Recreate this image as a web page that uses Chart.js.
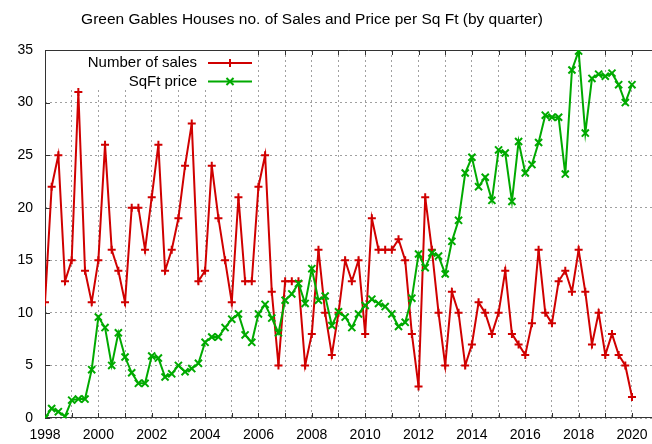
<!DOCTYPE html>
<html>
<head>
<meta charset="utf-8">
<title>Green Gables Houses</title>
<script src="https://cdn.jsdelivr.net/npm/chart.js@4.4.1/dist/chart.umd.min.js"></script>
<style>
  body { margin: 0; background: #fff; }
</style>
</head>
<body>
<canvas id="chart" width="652" height="444"></canvas>
<script>
// quarterly data, first point is Q1 1998
var startYear = 1998;

var sales = [
  11, 22, 25, 13,   15, 31, 14, 11,   15, 26, 16, 14,   11, 20, 20, 16,
  21, 26, 14, 16,   19, 24, 28, 13,   14, 24, 19, 15,   11, 21, 13, 13,
  22, 25, 12, 5,    13, 13, 13, 5,    8, 16, 10, 6,     10, 15, 13, 15,
  8, 19, 16, 16,    16, 17, 15, 8,    3, 21, 16, 10,    5, 12, 10, 5,
  7, 11, 10, 8,     10, 14, 8, 7,     6, 9, 16, 10,     9, 13, 14, 12,
  16, 12, 7, 10,    6, 8, 6, 5,       2
];

var sqftPrice = [
  0, 0.9, 0.6, 0.15,      1.7, 1.8, 1.8, 4.6,     9.6, 8.6, 5.0, 8.1,
  5.8, 4.3, 3.3, 3.3,     5.9, 5.7, 3.9, 4.2,     5.0, 4.4, 4.7, 5.2,
  7.2, 7.7, 7.7, 8.6,     9.4, 9.9, 7.9, 7.2,     9.9, 10.8, 9.5, 8.1,
  11.2, 11.8, 12.8, 10.9, 14.2, 11.2, 11.6, 8.8,  10.1, 9.6, 8.6, 9.9,
  10.7, 11.3, 10.9, 10.6, 9.9, 8.7, 9.1, 11.4,    15.6, 14.3, 15.7, 15.4,
  13.7, 16.8, 18.8, 23.3, 24.8, 22.0, 22.9, 20.7, 25.5, 25.2, 20.6, 26.3,
  23.3, 24.1, 26.2, 28.8, 28.6, 28.6, 23.2, 33.1, 34.9, 27.1, 32.3, 32.7,
  32.5, 32.8, 31.7, 30.0, 31.7
];

var titleText = 'Green Gables Houses no. of Sales and Price per Sq Ft (by quarter)';
var xMin = 1998, xMax = 2020.75;
// one grid line a year, labels on the even years
var xTicks = [1998, 1999, 2000, 2001, 2002, 2003, 2004, 2005, 2006, 2007, 2008, 2009,
  2010, 2011, 2012, 2013, 2014, 2015, 2016, 2017, 2018, 2019, 2020];
var yTicks = [0, 5, 10, 15, 20, 25, 30, 35];

function toPoints(values) {
  return values.map(function (v, i) {
    return { x: startYear + i / 4, y: v };
  });
}

var font = '"Liberation Sans", Arial, sans-serif';

// title sits a bit left of centre, like the gnuplot original
var titlePlugin = {
  id: 'plotTitle',
  afterDraw: function (chart) {
    var ctx = chart.ctx;
    ctx.save();
    ctx.fillStyle = '#000';
    ctx.font = '15.5px ' + font;
    ctx.textAlign = 'center';
    ctx.textBaseline = 'middle';
    ctx.fillText(titleText, 312, 20);
    ctx.restore();
  }
};

// gnuplot style border (left, top, bottom) with inward ticks
var framePlugin = {
  id: 'frame',
  beforeDatasetsDraw: function (chart) {
    var a = chart.chartArea, ctx = chart.ctx;
    var sx = chart.scales.x, sy = chart.scales.y;
    ctx.save();
    ctx.strokeStyle = '#333';
    ctx.lineWidth = 1;
    ctx.beginPath();
    ctx.moveTo(a.right, a.top + 0.5);
    ctx.lineTo(a.left + 0.5, a.top + 0.5);
    ctx.lineTo(a.left + 0.5, a.bottom - 0.5);
    ctx.lineTo(a.right, a.bottom - 0.5);
    sx.ticks.forEach(function (t) {
      var px = Math.round(sx.getPixelForValue(t.value)) + 0.5;
      ctx.moveTo(px, a.bottom); ctx.lineTo(px, a.bottom - 5);
      ctx.moveTo(px, a.top); ctx.lineTo(px, a.top + 5);
    });
    sy.ticks.forEach(function (t) {
      var py = Math.round(sy.getPixelForValue(t.value)) + 0.5;
      ctx.moveTo(a.left, py); ctx.lineTo(a.left + 5, py);
    });
    ctx.stroke();
    ctx.restore();
  }
};

// opaque key, text on the left of the sample
var keyPlugin = {
  id: 'key',
  afterDraw: function (chart) {
    var ctx = chart.ctx;
    ctx.save();
    ctx.fillStyle = '#fff';
    ctx.fillRect(47, 51, 210, 37);
    ctx.font = '15px ' + font;
    ctx.textAlign = 'right';
    ctx.textBaseline = 'middle';
    chart.data.datasets.forEach(function (ds, i) {
      var y = 63 + i * 18.5;
      ctx.fillStyle = '#000';
      ctx.fillText(ds.label, 197, y);
      ctx.strokeStyle = ds.borderColor;
      ctx.lineWidth = 2;
      ctx.beginPath();
      ctx.moveTo(208, y);
      ctx.lineTo(252, y);
      ctx.stroke();
      Chart.helpers.drawPoint(ctx, {
        pointStyle: ds.pointStyle, radius: ds.pointRadius, borderWidth: ds.pointBorderWidth
      }, 230, y);
    });
    ctx.restore();
  }
};

var ctx = document.getElementById('chart').getContext('2d');

var chart = new Chart(ctx, {
  type: 'line',
  data: {
    datasets: [{
      label: 'Number of sales',
      data: toPoints(sales),
      borderColor: '#d00000',
      backgroundColor: '#d00000',
      borderWidth: 2,
      pointStyle: 'cross',
      pointRadius: 4,
      pointBorderWidth: 2,
      fill: false,
      order: 1
    }, {
      label: 'SqFt price',
      data: toPoints(sqftPrice),
      borderColor: '#00aa00',
      backgroundColor: '#00aa00',
      borderWidth: 2,
      pointStyle: 'crossRot',
      pointRadius: 5,
      pointBorderWidth: 2,
      fill: false,
      order: 0
    }]
  },
  options: {
    responsive: false,
    animation: false,
    devicePixelRatio: 1,
    layout: { autoPadding: false, padding: { top: 50, left: 0, right: 0, bottom: 0 } },
    plugins: {
      legend: { display: false },
      tooltip: { enabled: false },
      title: { display: false }
    },
    scales: {
      x: {
        type: 'linear',
        min: xMin,
        max: xMax,
        bounds: 'data',
        afterBuildTicks: function (scale) {
          scale.ticks = xTicks.map(function (v) { return { value: v }; });
          scale.min = xMin;
          scale.max = xMax;
        },
        afterFit: function (scale) {
          scale.height = 26;
          scale.paddingLeft = 0;
          scale.paddingRight = 0;
        },
        ticks: {
          autoSkip: false,
          maxRotation: 0,
          padding: 9,
          color: '#000',
          font: { family: font, size: 14 },
          callback: function (v) { return v % 2 === 0 ? String(v) : ''; }
        },
        grid: { color: '#a0a0a0', lineWidth: 1, drawTicks: false },
        border: { display: false, dash: [2, 3] }
      },
      y: {
        min: 0,
        max: 35,
        afterFit: function (scale) {
          scale.width = 45;
          scale.paddingTop = 0;
          scale.paddingBottom = 0;
        },
        afterBuildTicks: function (scale) {
          scale.ticks = yTicks.map(function (v) { return { value: v }; });
        },
        ticks: {
          padding: 12,
          color: '#000',
          font: { family: font, size: 14 }
        },
        grid: { color: '#a0a0a0', lineWidth: 1, drawTicks: false },
        border: { display: false, dash: [2, 3] }
      }
    }
  },
  plugins: [framePlugin, keyPlugin, titlePlugin]
});
</script>
</body>
</html>
